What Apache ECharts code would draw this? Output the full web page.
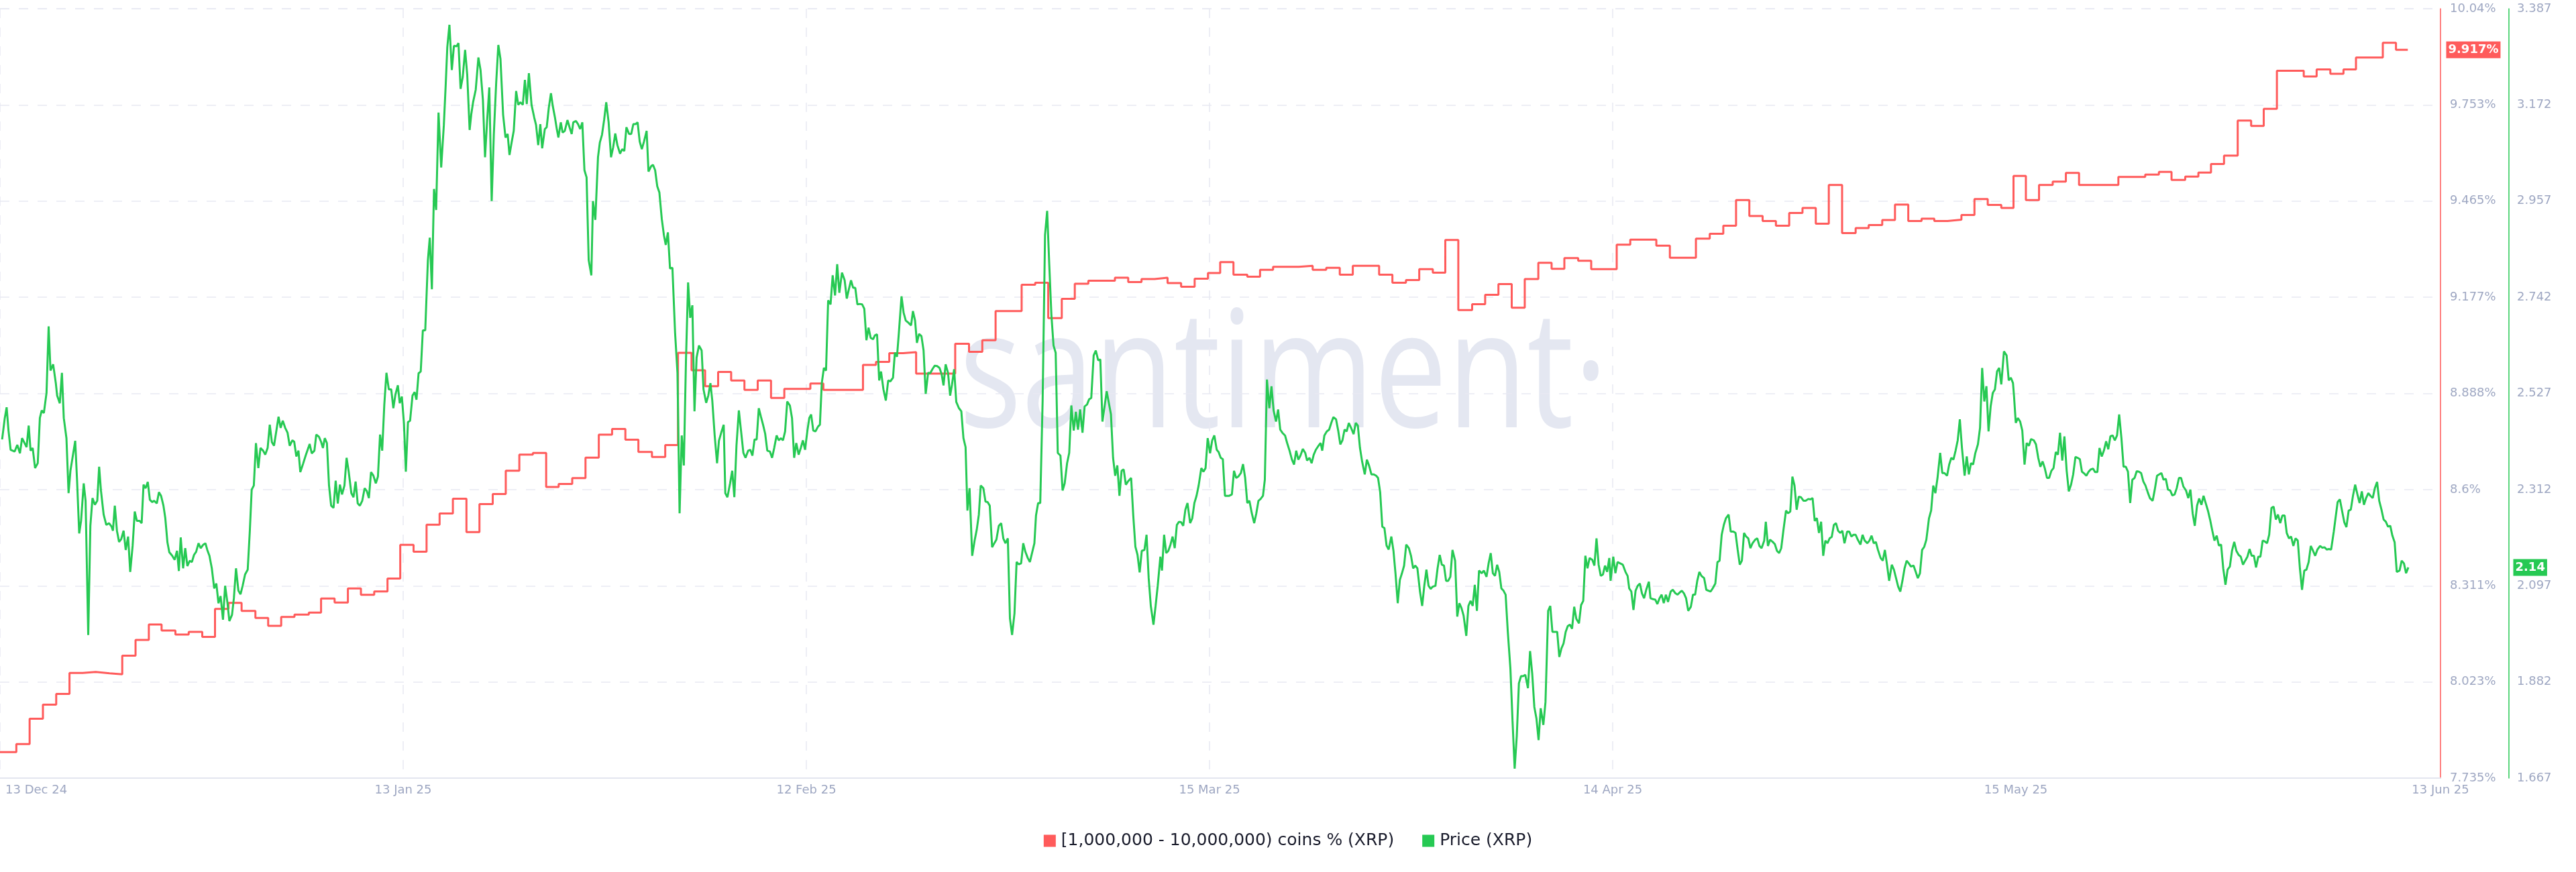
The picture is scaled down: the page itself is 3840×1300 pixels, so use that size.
<!DOCTYPE html>
<html><head><meta charset="utf-8">
<script src="https://cdn.jsdelivr.net/npm/echarts/dist/echarts.min.js"></script>
<style>html,body{margin:0;padding:0;background:#fff}#c{width:3840px;height:1300px}</style>
</head><body><div id="c"></div>
<script>
// x axis: days since 13 Dec 2024
const xTickLabels = ['13 Dec 24','13 Jan 25','12 Feb 25','15 Mar 25','14 Apr 25','15 May 25','13 Jun 25'];
const pctTickLabels = ['7.735%','8.023%','8.311%','8.6%','8.888%','9.177%','9.465%','9.753%','10.04%'];
const priceTickLabels = ['1.667','1.882','2.097','2.312','2.527','2.742','2.957','3.172','3.387'];
const seriesNames = ['[1,000,000 - 10,000,000) coins % (XRP)', 'Price (XRP)'];

// [day, % of supply] — step levels
const holdersPct = [[0,7.813],[1.23,7.837],[2.23,7.913],[3.23,7.955],[4.23,7.987],[5.23,8.050],[6.22,8.053],[7.20,8.049],[8.24,8.046],[9.20,8.102],[10.20,8.149],[11.20,8.195],[12.16,8.177],[13.20,8.165],[14.20,8.173],[15.22,8.158],[16.18,8.242],[17.20,8.260],[18.18,8.236],[19.22,8.215],[20.18,8.191],[21.16,8.218],[22.16,8.225],[23.24,8.231],[24.16,8.273],[25.18,8.261],[26.18,8.303],[27.16,8.284],[28.16,8.294],[29.16,8.333],[30.12,8.434],[31.12,8.413],[32.10,8.494],[33.08,8.528],[34.08,8.572],[35.10,8.472],[36.08,8.556],[37.08,8.586],[38.06,8.656],[39.08,8.704],[40.10,8.709],[41.10,8.607],[42.04,8.616],[43.06,8.634],[44.06,8.695],[45.06,8.764],[46.06,8.781],[47.06,8.749],[48.04,8.712],[49.06,8.697],[50.06,8.733],[51.02,9.009],[52.04,8.957],[53.06,8.909],[54.04,8.952],[55.02,8.926],[56.02,8.898],[57.02,8.926],[58.02,8.874],[59.02,8.901],[60.98,8.917],[61.96,8.898],[64.94,8.973],[65.92,8.982],[66.92,9.008],[67.96,9.011],[68.94,8.947],[71.88,9.036],[72.92,9.012],[73.92,9.047],[74.92,9.134],[76.88,9.213],[77.90,9.219],[78.88,9.113],[79.90,9.171],[80.88,9.216],[81.90,9.225],[83.90,9.234],[84.90,9.221],[85.90,9.230],[86.88,9.234],[87.86,9.218],[88.88,9.207],[89.90,9.231],[90.90,9.248],[91.82,9.281],[92.82,9.243],[93.86,9.237],[94.82,9.258],[95.80,9.267],[97.74,9.270],[98.78,9.258],[99.80,9.264],[100.82,9.243],[101.80,9.270],[103.78,9.243],[104.78,9.219],[105.80,9.227],[106.80,9.260],[107.82,9.249],[108.76,9.347],[109.74,9.137],[110.78,9.155],[111.76,9.183],[112.76,9.215],[113.76,9.144],[114.74,9.230],[115.76,9.279],[116.76,9.261],[117.72,9.293],[118.76,9.285],[119.74,9.260],[121.66,9.333],[122.68,9.348],[124.64,9.330],[125.66,9.294],[127.62,9.351],[128.66,9.366],[129.68,9.390],[130.64,9.467],[131.64,9.419],[132.64,9.404],[133.64,9.390],[134.64,9.428],[135.64,9.443],[136.64,9.396],[137.62,9.512],[138.62,9.368],[139.64,9.383],[140.62,9.392],[141.64,9.407],[142.60,9.453],[143.60,9.404],[144.60,9.411],[145.56,9.404],[146.56,9.408],[147.60,9.422],[148.58,9.470],[149.58,9.452],[150.60,9.443],[151.52,9.539],[152.45,9.467],[153.44,9.512],[154.47,9.522],[155.46,9.548],[156.45,9.512],[159.41,9.536],[161.43,9.543],[162.46,9.551],[163.41,9.527],[164.44,9.537],[165.43,9.549],[166.38,9.575],[167.36,9.600],[168.39,9.705],[169.40,9.689],[170.35,9.740],[171.34,9.854],[173.36,9.837],[174.33,9.858],[175.36,9.845],[176.35,9.858],[177.29,9.894],[179.31,9.938],[180.30,9.917],[181.19,9.917]];

// [day, price USD]
const priceUsd = [[0.16,2.424],[0.36,2.472],[0.50,2.496],[0.64,2.444],[0.80,2.401],[1.10,2.397],[1.30,2.412],[1.50,2.393],[1.66,2.427],[2.00,2.407],[2.16,2.455],[2.30,2.399],[2.46,2.405],[2.64,2.360],[2.84,2.371],[3.00,2.472],[3.14,2.489],[3.30,2.483],[3.50,2.528],[3.66,2.677],[3.80,2.578],[4.00,2.592],[4.20,2.550],[4.30,2.522],[4.50,2.505],[4.66,2.573],[4.80,2.472],[5.00,2.427],[5.16,2.304],[5.30,2.354],[5.66,2.421],[5.80,2.332],[5.96,2.214],[6.10,2.242],[6.30,2.326],[6.44,2.287],[6.64,1.987],[6.80,2.231],[6.96,2.293],[7.14,2.278],[7.32,2.287],[7.46,2.363],[7.60,2.309],[7.80,2.256],[8.00,2.233],[8.20,2.237],[8.40,2.229],[8.50,2.220],[8.64,2.276],[8.80,2.220],[8.96,2.195],[9.12,2.201],[9.30,2.220],[9.46,2.177],[9.64,2.207],[9.80,2.128],[9.98,2.186],[10.14,2.263],[10.30,2.242],[10.50,2.242],[10.66,2.237],[10.80,2.323],[10.96,2.315],[11.12,2.329],[11.28,2.289],[11.46,2.284],[11.60,2.287],[11.80,2.281],[11.96,2.306],[12.12,2.298],[12.30,2.276],[12.44,2.248],[12.60,2.194],[12.74,2.172],[12.96,2.164],[13.14,2.155],[13.32,2.175],[13.46,2.130],[13.60,2.205],[13.78,2.136],[13.94,2.181],[14.10,2.141],[14.28,2.153],[14.44,2.150],[14.60,2.166],[14.76,2.173],[14.94,2.192],[15.10,2.181],[15.30,2.189],[15.46,2.192],[15.60,2.177],[15.76,2.164],[15.94,2.136],[16.12,2.091],[16.28,2.102],[16.44,2.058],[16.60,2.074],[16.78,2.021],[16.94,2.097],[17.12,2.058],[17.26,2.018],[17.46,2.032],[17.60,2.069],[17.76,2.136],[17.94,2.086],[18.10,2.078],[18.26,2.097],[18.44,2.122],[18.64,2.133],[18.80,2.220],[18.94,2.312],[19.10,2.321],[19.26,2.416],[19.44,2.360],[19.60,2.405],[19.80,2.399],[19.96,2.390],[20.14,2.405],[20.30,2.457],[20.46,2.418],[20.62,2.410],[20.80,2.444],[20.96,2.475],[21.12,2.450],[21.28,2.466],[21.46,2.450],[21.64,2.439],[21.80,2.410],[22.00,2.422],[22.14,2.419],[22.30,2.386],[22.46,2.399],[22.60,2.351],[22.80,2.369],[23.00,2.388],[23.20,2.405],[23.30,2.414],[23.46,2.393],[23.66,2.399],[23.80,2.435],[24.00,2.430],[24.16,2.419],[24.30,2.405],[24.44,2.427],[24.60,2.416],[24.76,2.321],[24.92,2.276],[25.10,2.271],[25.26,2.332],[25.42,2.281],[25.58,2.323],[25.74,2.301],[25.92,2.321],[26.08,2.383],[26.24,2.352],[26.44,2.304],[26.60,2.295],[26.76,2.330],[26.92,2.281],[27.08,2.276],[27.26,2.287],[27.44,2.315],[27.60,2.309],[27.76,2.293],[27.92,2.351],[28.10,2.343],[28.28,2.326],[28.44,2.341],[28.60,2.435],[28.76,2.399],[28.92,2.502],[29.08,2.573],[29.26,2.536],[29.44,2.536],[29.60,2.494],[29.76,2.525],[29.94,2.545],[30.08,2.505],[30.24,2.520],[30.40,2.459],
[30.54,2.352],[30.70,2.463],[30.86,2.466],[31.04,2.522],[31.20,2.530],[31.34,2.513],[31.50,2.572],[31.66,2.576],[31.82,2.668],[32.00,2.668],[32.20,2.825],[32.34,2.875],[32.50,2.760],[32.66,2.984],[32.82,2.937],[33.00,3.155],[33.20,3.032],[33.40,3.127],[33.54,3.217],[33.66,3.301],[33.82,3.351],[34.00,3.250],[34.16,3.304],[34.36,3.303],[34.50,3.310],[34.66,3.208],[34.82,3.234],[35.00,3.295],[35.16,3.239],[35.34,3.116],[35.46,3.150],[35.60,3.178],[35.80,3.206],[36.00,3.278],[36.16,3.250],[36.34,3.183],[36.50,3.055],[36.66,3.138],[36.82,3.211],[37.00,2.957],[37.16,3.105],[37.34,3.222],[37.50,3.306],[37.66,3.275],[37.86,3.150],[38.04,3.099],[38.20,3.107],[38.34,3.060],[38.50,3.088],[38.66,3.114],[38.84,3.203],[39.00,3.172],[39.16,3.178],[39.34,3.172],[39.50,3.228],[39.64,3.174],[39.80,3.243],[40.00,3.172],[40.20,3.144],[40.34,3.127],[40.50,3.082],[40.66,3.129],[40.80,3.075],[41.00,3.118],[41.14,3.122],[41.30,3.166],[41.46,3.198],[41.60,3.169],[41.76,3.144],[41.90,3.118],[42.02,3.099],[42.20,3.133],[42.34,3.110],[42.50,3.114],[42.70,3.138],[42.86,3.122],[43.02,3.107],[43.14,3.133],[43.34,3.136],[43.50,3.129],[43.66,3.118],[43.82,3.133],[43.98,3.026],[44.14,3.010],[44.30,2.825],[44.50,2.791],[44.62,2.957],[44.80,2.915],[45.00,3.055],[45.14,3.088],[45.30,3.105],[45.46,3.138],[45.62,3.178],[45.80,3.133],[45.98,3.055],[46.14,3.077],[46.30,3.108],[46.46,3.082],[46.66,3.063],[46.82,3.073],[46.98,3.069],[47.14,3.122],[47.34,3.107],[47.50,3.107],[47.66,3.129],[47.82,3.129],[47.98,3.133],[48.14,3.090],[48.30,3.073],[48.46,3.090],[48.66,3.114],[48.80,3.023],[49.00,3.035],[49.14,3.038],[49.30,3.026],[49.46,2.990],[49.62,2.976],[49.80,2.917],[49.96,2.881],[50.10,2.859],[50.26,2.887],[50.42,2.806],[50.60,2.808],[50.80,2.663],[50.98,2.573],[51.14,2.259],[51.30,2.433],[51.46,2.366],[51.62,2.601],[51.78,2.775],[51.94,2.696],[52.10,2.724],[52.26,2.487],[52.42,2.607],[52.60,2.634],[52.80,2.623],[52.94,2.536],[53.14,2.506],[53.30,2.522],[53.46,2.550],[53.60,2.511],[53.78,2.433],[53.96,2.371],[54.10,2.421],[54.30,2.442],[54.46,2.457],[54.58,2.304],[54.74,2.295],[54.94,2.326],[55.10,2.354],[55.26,2.295],[55.42,2.410],[55.60,2.489],[55.74,2.450],[55.94,2.394],[56.10,2.383],[56.30,2.399],[56.46,2.401],[56.62,2.388],[56.78,2.424],[56.94,2.424],[57.10,2.494],[57.26,2.475],[57.42,2.457],[57.58,2.437],[57.74,2.399],[57.94,2.397],[58.10,2.383],[58.26,2.405],[58.44,2.433],[58.60,2.422],[58.76,2.427],[58.92,2.422],[59.08,2.442],[59.24,2.509],[59.44,2.500],[59.60,2.472],[59.76,2.383],[59.92,2.416],[60.10,2.390],[60.26,2.405],[60.42,2.422],[60.58,2.401],
[60.76,2.444],[60.90,2.472],[61.04,2.480],[61.20,2.444],[61.36,2.442],[61.56,2.453],[61.70,2.457],[61.84,2.550],[62.00,2.584],[62.16,2.578],[62.32,2.735],[62.50,2.726],[62.66,2.791],[62.84,2.746],[63.00,2.816],[63.16,2.752],[63.36,2.797],[63.56,2.780],[63.72,2.739],[63.88,2.760],[64.04,2.780],[64.20,2.763],[64.36,2.763],[64.52,2.726],[64.70,2.727],[64.88,2.726],[65.04,2.716],[65.20,2.646],[65.36,2.674],[65.52,2.651],[65.70,2.648],[65.84,2.657],[66.00,2.659],[66.16,2.556],[66.30,2.576],[66.48,2.536],[66.66,2.511],[66.84,2.556],[67.00,2.554],[67.20,2.562],[67.34,2.618],[67.50,2.609],[67.64,2.662],[67.84,2.744],[68.00,2.707],[68.16,2.690],[68.36,2.685],[68.56,2.679],[68.70,2.711],[68.86,2.690],[69.00,2.640],[69.16,2.660],[69.34,2.655],[69.50,2.623],[69.66,2.526],[69.84,2.573],[70.00,2.572],[70.16,2.581],[70.34,2.589],[70.52,2.588],[70.70,2.584],[70.86,2.570],[71.00,2.545],[71.16,2.592],[71.34,2.573],[71.50,2.522],[71.64,2.547],[71.80,2.581],[71.96,2.508],[72.16,2.494],[72.34,2.487],[72.50,2.427],[72.66,2.407],[72.80,2.265],[72.96,2.315],[73.16,2.164],[73.34,2.198],[73.50,2.222],[73.66,2.256],[73.80,2.321],[74.00,2.315],[74.16,2.285],[74.32,2.284],[74.48,2.276],[74.66,2.183],[74.82,2.192],[74.98,2.200],[75.16,2.231],[75.34,2.237],[75.50,2.203],[75.66,2.192],[75.84,2.203],[76.00,2.024],[76.16,1.987],[76.34,2.035],[76.50,2.150],[76.66,2.145],[76.84,2.147],[77.00,2.192],[77.16,2.173],[77.34,2.159],[77.50,2.150],[77.66,2.170],[77.84,2.192],[77.96,2.254],[78.12,2.282],[78.28,2.282],[78.46,2.511],[78.64,2.881],[78.80,2.935],[78.96,2.814],[79.12,2.702],[79.28,2.634],[79.44,2.618],[79.60,2.394],[79.80,2.388],[79.96,2.310],[80.12,2.326],[80.30,2.371],[80.46,2.394],[80.62,2.500],[80.80,2.444],[80.96,2.486],[81.12,2.446],[81.28,2.491],[81.46,2.439],[81.62,2.498],[81.80,2.502],[81.96,2.514],[82.12,2.517],[82.30,2.612],[82.46,2.623],[82.64,2.601],[82.80,2.603],[82.96,2.464],[83.12,2.498],[83.28,2.532],[83.44,2.506],[83.60,2.480],[83.76,2.383],[83.92,2.343],[84.08,2.366],[84.24,2.298],[84.40,2.354],[84.56,2.357],[84.72,2.323],[84.88,2.330],[85.12,2.338],[85.28,2.254],[85.44,2.184],[85.60,2.166],[85.76,2.127],[85.92,2.175],[86.12,2.177],[86.28,2.211],[86.44,2.114],[86.60,2.052],[86.80,2.010],[86.96,2.052],[87.12,2.097],[87.32,2.162],[87.44,2.131],[87.60,2.211],[87.76,2.170],[87.92,2.175],[88.08,2.189],[88.24,2.207],[88.40,2.181],[88.56,2.233],[88.72,2.240],[88.88,2.239],[89.04,2.231],[89.20,2.267],[89.36,2.282],[89.56,2.237],[89.72,2.248],[89.88,2.282],[90.04,2.298],[90.20,2.321],[90.40,2.360],[90.56,2.352],[90.72,2.360],[90.88,2.427],
[91.06,2.393],[91.22,2.422],[91.38,2.433],[91.56,2.401],[91.70,2.396],[91.86,2.383],[92.02,2.380],[92.18,2.298],[92.50,2.298],[92.70,2.301],[92.86,2.354],[93.02,2.338],[93.18,2.341],[93.38,2.349],[93.54,2.369],[93.70,2.338],[93.86,2.282],[94.02,2.287],[94.20,2.259],[94.38,2.237],[94.54,2.259],[94.70,2.287],[94.86,2.291],[95.04,2.298],[95.18,2.334],[95.34,2.558],[95.52,2.494],[95.68,2.543],[95.84,2.489],[96.02,2.464],[96.18,2.491],[96.34,2.446],[96.50,2.439],[96.70,2.433],[96.86,2.416],[97.04,2.399],[97.22,2.379],[97.38,2.368],[97.54,2.399],[97.70,2.379],[97.86,2.388],[98.04,2.403],[98.22,2.394],[98.36,2.377],[98.54,2.383],[98.70,2.371],[98.86,2.390],[99.02,2.401],[99.22,2.410],[99.38,2.416],[99.50,2.399],[99.66,2.433],[99.84,2.442],[100.02,2.446],[100.18,2.461],[100.34,2.474],[100.54,2.469],[100.70,2.444],[100.86,2.413],[101.02,2.422],[101.18,2.446],[101.34,2.442],[101.50,2.461],[101.70,2.448],[101.86,2.436],[102.02,2.461],[102.18,2.455],[102.34,2.405],[102.50,2.375],[102.70,2.346],[102.86,2.379],[103.02,2.366],[103.20,2.346],[103.38,2.346],[103.56,2.343],[103.70,2.338],[103.86,2.306],[104.02,2.229],[104.18,2.226],[104.34,2.187],[104.50,2.178],[104.70,2.207],[104.86,2.175],[105.02,2.122],[105.18,2.058],[105.34,2.110],[105.50,2.125],[105.66,2.142],[105.82,2.189],[106.02,2.181],[106.18,2.164],[106.34,2.136],[106.50,2.142],[106.66,2.136],[106.86,2.083],[107.02,2.052],[107.18,2.097],[107.34,2.133],[107.50,2.097],[107.66,2.090],[107.82,2.095],[108.02,2.097],[108.18,2.136],[108.34,2.166],[108.50,2.144],[108.66,2.142],[108.82,2.108],[108.98,2.108],[109.14,2.117],[109.30,2.177],[109.50,2.153],[109.66,2.028],[109.82,2.058],[109.98,2.047],[110.14,2.030],[110.34,1.985],[110.50,2.052],[110.66,2.063],[110.82,2.052],[110.98,2.099],[111.14,2.041],[111.30,2.131],[111.50,2.125],[111.66,2.131],[111.86,2.117],[112.02,2.147],[112.18,2.170],[112.34,2.125],[112.50,2.119],[112.66,2.144],[112.82,2.128],[112.98,2.091],[113.14,2.086],[113.30,2.077],[113.46,1.996],[113.66,1.912],[113.82,1.795],[113.98,1.688],[114.14,1.761],[114.30,1.879],[114.46,1.895],[114.62,1.895],[114.78,1.898],[114.98,1.868],[115.14,1.951],[115.30,1.901],[115.46,1.826],[115.62,1.800],[115.78,1.752],[115.94,1.823],[116.14,1.786],[116.30,1.837],[116.50,2.041],[116.66,2.052],[116.82,1.994],[117.02,1.994],[117.18,1.994],[117.34,1.938],[117.50,1.957],[117.66,1.968],[117.82,1.994],[117.98,2.007],[118.14,2.010],[118.30,2.001],[118.46,2.050],[118.62,2.023],[118.82,2.013],[118.98,2.054],[119.14,2.063],[119.30,2.164],[119.46,2.136],[119.62,2.159],[119.82,2.155],[119.98,2.142],[120.14,2.203],[120.30,2.144],[120.46,2.119],[120.62,2.122],[120.78,2.142],[120.94,2.128],[121.10,2.159],[121.20,2.108],
[121.40,2.162],[121.56,2.125],[121.72,2.150],[121.92,2.147],[122.12,2.144],[122.32,2.128],[122.48,2.119],[122.60,2.091],[122.76,2.084],[122.92,2.043],[123.08,2.086],[123.24,2.097],[123.40,2.102],[123.56,2.080],[123.72,2.069],[123.88,2.088],[124.08,2.106],[124.20,2.069],[124.40,2.067],[124.56,2.066],[124.72,2.056],[124.88,2.069],[125.04,2.077],[125.20,2.058],[125.36,2.077],[125.52,2.061],[125.72,2.084],[125.88,2.088],[126.08,2.080],[126.24,2.077],[126.40,2.082],[126.56,2.086],[126.72,2.080],[126.88,2.069],[127.04,2.041],[127.24,2.050],[127.40,2.077],[127.56,2.077],[127.72,2.108],[127.88,2.128],[128.04,2.119],[128.24,2.114],[128.40,2.088],[128.56,2.086],[128.72,2.084],[128.88,2.091],[129.08,2.102],[129.24,2.150],[129.40,2.153],[129.56,2.211],[129.72,2.233],[129.88,2.248],[130.08,2.256],[130.24,2.218],[130.44,2.218],[130.60,2.215],[130.76,2.178],[130.92,2.144],[131.08,2.153],[131.24,2.215],[131.40,2.207],[131.56,2.203],[131.72,2.181],[131.88,2.192],[132.08,2.200],[132.24,2.203],[132.40,2.186],[132.56,2.181],[132.76,2.198],[132.88,2.240],[133.04,2.186],[133.20,2.200],[133.40,2.195],[133.56,2.190],[133.72,2.175],[133.88,2.170],[134.04,2.181],[134.20,2.220],[134.40,2.265],[134.56,2.259],[134.72,2.263],[134.88,2.341],[135.04,2.321],[135.20,2.267],[135.36,2.296],[135.52,2.295],[135.72,2.287],[135.88,2.287],[136.08,2.291],[136.24,2.290],[136.40,2.293],[136.56,2.242],[136.72,2.248],[136.88,2.215],[137.04,2.240],[137.20,2.164],[137.36,2.198],[137.52,2.192],[137.68,2.203],[137.84,2.206],[138.00,2.233],[138.16,2.237],[138.32,2.220],[138.48,2.215],[138.64,2.220],[138.80,2.192],[139.00,2.218],[139.16,2.218],[139.32,2.207],[139.48,2.211],[139.64,2.211],[139.80,2.200],[140.00,2.189],[140.16,2.211],[140.32,2.198],[140.52,2.192],[140.68,2.198],[140.84,2.209],[141.00,2.192],[141.16,2.195],[141.32,2.177],[141.52,2.159],[141.68,2.153],[141.84,2.177],[142.00,2.144],[142.16,2.108],[142.36,2.144],[142.52,2.133],[142.68,2.114],[142.84,2.095],[143.00,2.084],[143.16,2.108],[143.32,2.136],[143.48,2.153],[143.64,2.147],[143.80,2.140],[144.00,2.142],[144.16,2.128],[144.32,2.114],[144.48,2.125],[144.64,2.177],[144.80,2.184],[144.96,2.200],[145.16,2.248],[145.32,2.265],[145.48,2.321],[145.64,2.304],[145.80,2.338],[146.00,2.394],[146.16,2.349],[146.32,2.349],[146.52,2.343],[146.68,2.368],[146.84,2.383],[147.00,2.379],[147.16,2.399],[147.32,2.422],[147.48,2.469],[147.64,2.405],[147.84,2.343],[148.00,2.386],[148.16,2.346],[148.32,2.371],[148.48,2.368],[148.64,2.393],[148.84,2.413],[149.00,2.450],[149.16,2.584],[149.32,2.509],[149.48,2.543],[149.64,2.442],[149.80,2.498],[149.96,2.528],[150.12,2.536],[150.28,2.576],[150.44,2.584],[150.60,2.547],[150.80,2.621],[151.00,2.612],[151.16,2.556],[151.32,2.562],[151.48,2.550],
[151.56,2.520],[151.69,2.461],[151.85,2.472],[152.02,2.464],[152.18,2.444],[152.35,2.368],[152.51,2.416],[152.68,2.410],[152.84,2.425],[153.05,2.422],[153.21,2.413],[153.38,2.383],[153.54,2.363],[153.71,2.375],[153.87,2.360],[154.04,2.338],[154.20,2.338],[154.37,2.354],[154.53,2.360],[154.70,2.396],[154.86,2.390],[155.02,2.439],[155.19,2.377],[155.35,2.431],[155.52,2.354],[155.68,2.308],[155.85,2.323],[156.01,2.346],[156.18,2.385],[156.34,2.383],[156.51,2.380],[156.67,2.352],[156.84,2.348],[157.00,2.343],[157.17,2.352],[157.33,2.357],[157.50,2.359],[157.66,2.351],[157.83,2.351],[157.99,2.405],[158.16,2.386],[158.32,2.399],[158.49,2.420],[158.65,2.402],[158.81,2.431],[158.98,2.433],[159.14,2.422],[159.31,2.433],[159.47,2.480],[159.64,2.427],[159.80,2.363],[159.97,2.363],[160.13,2.352],[160.30,2.282],[160.46,2.334],[160.63,2.338],[160.79,2.353],[160.96,2.352],[161.12,2.349],[161.29,2.330],[161.45,2.321],[161.62,2.306],[161.78,2.293],[161.99,2.287],[162.15,2.312],[162.32,2.343],[162.48,2.346],[162.65,2.349],[162.81,2.334],[162.98,2.336],[163.14,2.312],[163.31,2.310],[163.47,2.299],[163.64,2.301],[163.80,2.315],[163.97,2.338],[164.13,2.338],[164.30,2.319],[164.50,2.310],[164.67,2.293],[164.83,2.312],[165.00,2.259],[165.16,2.231],[165.33,2.276],[165.49,2.292],[165.66,2.278],[165.82,2.298],[165.98,2.282],[166.15,2.265],[166.31,2.245],[166.48,2.220],[166.64,2.198],[166.81,2.209],[166.97,2.187],[167.14,2.189],[167.30,2.136],[167.47,2.099],[167.63,2.133],[167.80,2.140],[167.96,2.175],[168.13,2.195],[168.29,2.175],[168.46,2.166],[168.62,2.162],[168.79,2.144],[168.95,2.153],[169.12,2.162],[169.28,2.179],[169.44,2.164],[169.61,2.164],[169.77,2.138],[169.94,2.162],[170.10,2.162],[170.27,2.198],[170.43,2.196],[170.60,2.192],[170.76,2.211],[170.93,2.271],[171.09,2.274],[171.26,2.245],[171.42,2.256],[171.59,2.237],[171.75,2.254],[171.92,2.254],[172.08,2.215],[172.25,2.203],[172.41,2.207],[172.58,2.186],[172.74,2.203],[172.91,2.198],[173.07,2.136],[173.23,2.088],[173.40,2.131],[173.56,2.133],[173.73,2.150],[173.89,2.186],[174.06,2.175],[174.22,2.164],[174.39,2.178],[174.59,2.186],[174.76,2.182],[174.92,2.183],[175.09,2.178],[175.25,2.179],[175.42,2.178],[175.62,2.218],[175.75,2.248],[175.91,2.284],[176.08,2.290],[176.24,2.265],[176.41,2.239],[176.57,2.228],[176.74,2.265],[176.90,2.267],[177.07,2.299],[177.23,2.323],[177.40,2.301],[177.56,2.282],[177.73,2.308],[177.89,2.278],[178.05,2.293],[178.22,2.304],[178.38,2.298],[178.55,2.293],[178.71,2.315],[178.88,2.329],[179.04,2.287],[179.21,2.267],[179.37,2.245],[179.54,2.240],[179.70,2.229],[179.87,2.231],[180.03,2.209],[180.20,2.194],[180.36,2.128],[180.57,2.131],[180.73,2.153],[180.90,2.147],[181.06,2.125],[181.23,2.138]];

const X_MIN = 0, X_MAX = 183.65, X_STEP = 30.34;
const PCT_MIN = 7.735, PCT_MAX = 10.04, PRICE_MIN = 1.667, PRICE_MAX = 3.387;
// grid lines every X_STEP days; the last date label sits at the axis end
const xGridDays = [0, 1, 2, 3, 4, 5].map(k => +(k * X_STEP).toFixed(2));
const xLabelDays = xGridDays.concat([X_MAX]);

const RED = '#ff5b5b', GREEN = '#26c953';
const LABEL_COLOR = '#9ea7c2', GRID_COLOR = '#e7e9f2';
const FONT = '"DejaVu Sans", sans-serif';

const lastHold = holdersPct[holdersPct.length - 1][1];
const lastPrice = priceUsd[priceUsd.length - 1][1];

function xLabel(v) {
  let best = 0;
  xLabelDays.forEach((d, i) => { if (Math.abs(d - v) < Math.abs(xLabelDays[best] - v)) best = i; });
  const txt = Math.abs(xLabelDays[best] - v) < 1 ? xTickLabels[best] : '';
  return best === 0 && txt ? '{first|' + txt + '}' : txt;
}

const chart = echarts.init(document.getElementById('c'), null, {renderer: 'canvas'});
chart.setOption({
  animation: false,
  backgroundColor: '#fff',
  grid: {left: 0, right: 202, top: 13, bottom: 140, containLabel: false, outerBoundsMode: 'none'},
  graphic: [{
    type: 'text', x: 1430, y: 568, scaleX: 0.8, z: -10, silent: true,
    style: {text: 'santiment\u00b7', font: '400 243px "Open Sans"', fill: '#e4e7f1', verticalAlign: 'middle'}
  }],
  legend: {
    data: seriesNames, left: 'center', top: 1236, icon: 'rect', itemWidth: 18, itemHeight: 18, itemGap: 42,
    textStyle: {fontFamily: FONT, fontSize: 25, color: '#1a1c2c', padding: [0, 0, 0, 3]}
  },
  xAxis: {
    type: 'value', min: X_MIN, max: X_MAX, interval: X_STEP,
    axisLine: {show: true, onZero: false, lineStyle: {color: '#e3e6ef', width: 2}},
    axisTick: {show: false, customValues: xGridDays},
    axisLabel: {
      color: LABEL_COLOR, fontFamily: FONT, fontSize: 18, margin: 9, alignMinLabel: 'left',
      customValues: xLabelDays, showMaxLabel: true,
      formatter: (v) => xLabel(v),
      rich: {first: {padding: [0, 0, 0, 8], color: LABEL_COLOR, fontFamily: FONT, fontSize: 18}}
    },
    splitLine: {show: true, showMaxLine: false, lineStyle: {color: GRID_COLOR, width: 1.5, type: [14, 14]}}
  },
  yAxis: [{
    type: 'value', position: 'right', min: PCT_MIN, max: PCT_MAX, interval: (PCT_MAX - PCT_MIN) / 8,
    axisLine: {show: true, onZero: false, lineStyle: {color: RED, width: 1.5}},
    axisTick: {show: false},
    axisLabel: {color: LABEL_COLOR, fontFamily: FONT, fontSize: 18, margin: 14,
      formatter: (v, i) => pctTickLabels[i] || ''},
    splitLine: {show: true, lineStyle: {color: GRID_COLOR, width: 1.5, type: [14, 14]}}
  }, {
    type: 'value', position: 'right', offset: 102, min: PRICE_MIN, max: PRICE_MAX, interval: (PRICE_MAX - PRICE_MIN) / 8,
    axisLine: {show: true, onZero: false, lineStyle: {color: GREEN, width: 1.5}},
    axisTick: {show: false},
    axisLabel: {color: LABEL_COLOR, fontFamily: FONT, fontSize: 18, margin: 12,
      formatter: (v, i) => priceTickLabels[i] || ''},
    splitLine: {show: false}
  }],
  series: [{
    name: seriesNames[0], type: 'line', yAxisIndex: 0, step: 'end', showSymbol: false, symbol: 'none',
    data: holdersPct, lineStyle: {color: RED, width: 3}, itemStyle: {color: RED}, z: 3,
    markPoint: {
      symbol: 'rect', symbolSize: 1, itemStyle: {color: 'rgba(0,0,0,0)'}, animation: false, silent: true,
      data: [{coord: [X_MAX, lastHold]}],
      label: {show: true, position: 'right', distance: 8, formatter: () => lastHold.toFixed(3) + '%',
        backgroundColor: RED, color: '#fff', fontFamily: FONT, fontWeight: 'bold', fontSize: 18, lineHeight: 21, padding: [2, 3, 2, 3]}
    }
  }, {
    name: seriesNames[1], type: 'line', yAxisIndex: 1, showSymbol: false, symbol: 'none',
    data: priceUsd, lineStyle: {color: GREEN, width: 3}, itemStyle: {color: GREEN}, z: 4,
    markPoint: {
      symbol: 'rect', symbolSize: 1, itemStyle: {color: 'rgba(0,0,0,0)'}, animation: false, silent: true,
      data: [{coord: [X_MAX, lastPrice]}],
      label: {show: true, position: 'right', distance: 108, formatter: () => lastPrice.toFixed(2),
        backgroundColor: GREEN, color: '#fff', fontFamily: FONT, fontWeight: 'bold', fontSize: 18, lineHeight: 21, padding: [2, 3, 2, 3]}
    }
  }]
});
</script>
</body></html>
